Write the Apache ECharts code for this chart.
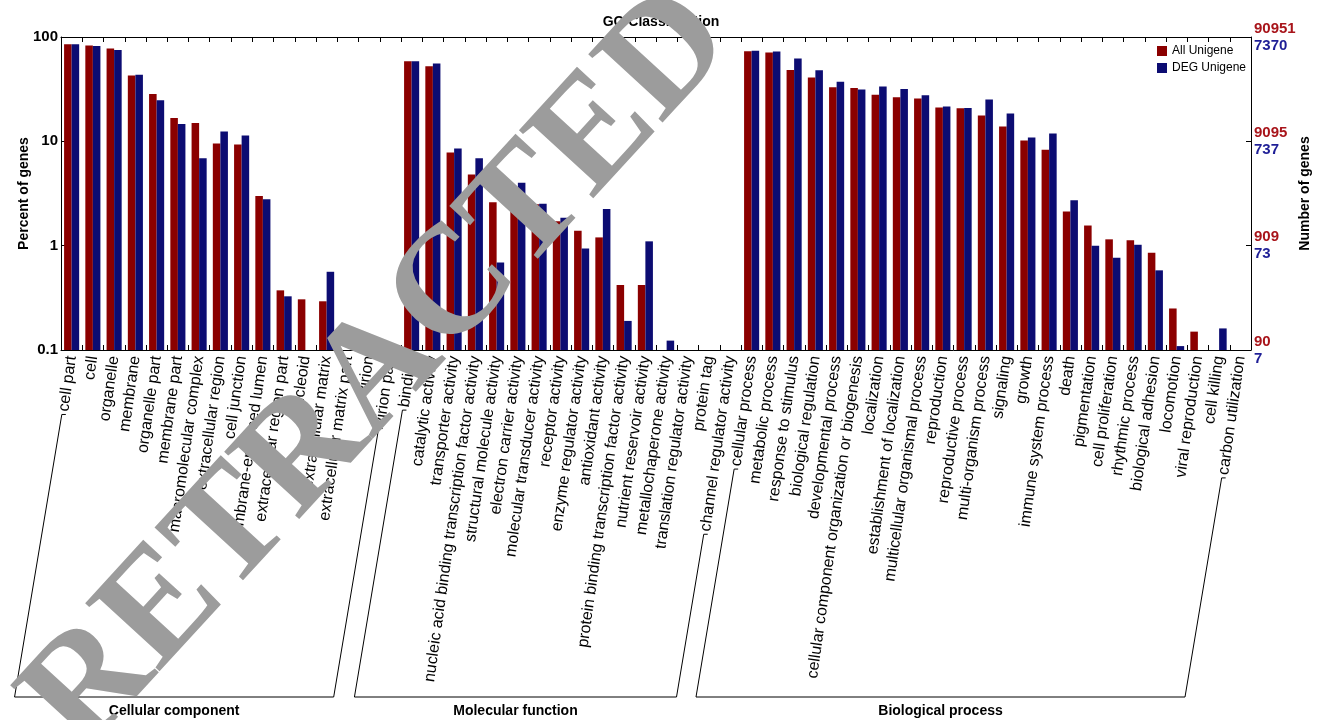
<!DOCTYPE html>
<html>
<head>
<meta charset="utf-8">
<script src="https://cdn.jsdelivr.net/npm/echarts@6/dist/echarts.min.js"></script>
<style>
  html, body { margin: 0; padding: 0; background: #fff; }
  #chart { width: 1326px; height: 720px; }
</style>
</head>
<body>
<div id="chart"></div>
<script>
// GO terms, grouped by ontology (percent of genes; '-' = no bar)
const ccCats = ['cell part', 'cell', 'organelle', 'membrane', 'organelle part', 'membrane part',
  'macromolecular complex', 'extracellular region', 'cell junction', 'membrane-enclosed lumen',
  'extracellular region part', 'nucleoid', 'extracellular matrix', 'extracellular matrix part',
  'virion', 'virion part'];
const ccAll = [85.3, 82.9, 77.6, 42.8, 28.5, 16.7, 15.0, 9.55, 9.3, 2.99, 0.373, 0.306, 0.293, '-', '-', '-'];
const ccDeg = [85.3, 82.0, 75.0, 43.5, 24.8, 14.7, 6.9, 12.4, 11.4, 2.79, 0.327, '-', 0.562, '-', '-', '-'];

const mfCats = ['binding', 'catalytic activity', 'transporter activity',
  'nucleic acid binding transcription factor activity', 'structural molecule activity',
  'electron carrier activity', 'molecular transducer activity', 'receptor activity',
  'enzyme regulator activity', 'antioxidant activity', 'protein binding transcription factor activity',
  'nutrient reservoir activity', 'metallochaperone activity', 'translation regulator activity',
  'protein tag', 'channel regulator activity'];
const mfAll = [58.6, 52.5, 7.83, 4.8, 2.6, 3.0, 2.49, 1.71, 1.39, 1.2, 0.42, 0.42, '-', '-', '-', '-'];
const mfDeg = [58.6, 55.7, 8.55, 6.9, 0.69, 4.0, 2.52, 1.85, 0.94, 2.24, 0.19, 1.1, 0.123, '-', '-', '-'];

const bpCats = ['cellular process', 'metabolic process', 'response to stimulus', 'biological regulation',
  'developmental process', 'cellular component organization or biogenesis', 'localization',
  'establishment of localization', 'multicellular organismal process', 'reproduction',
  'reproductive process', 'multi-organism process', 'signaling', 'growth', 'immune system process',
  'death', 'pigmentation', 'cell proliferation', 'rhythmic process', 'biological adhesion',
  'locomotion', 'viral reproduction', 'cell killing', 'carbon utilization'];
const bpAll = [73.1, 71.0, 48.4, 40.9, 33.0, 32.5, 27.9, 26.5, 25.7, 21.1, 20.8, 17.7, 13.9, 10.2, 8.3,
  2.13, 1.56, 1.15, 1.13, 0.855, 0.25, 0.15, '-', '-'];
const bpDeg = [74.0, 72.6, 62.2, 48.1, 37.2, 31.4, 33.6, 31.8, 27.7, 21.6, 20.9, 25.2, 18.5, 10.9, 11.9,
  2.72, 1.0, 0.766, 1.02, 0.58, 0.109, '-', 0.161, '-'];

const groupNames = ['Cellular component', 'Molecular function', 'Biological process'];

// Tick labels of the log axes at 0.1, 1, 10, 100 percent
const percentTicks = ['0.1', '1', '10', '100'];
const allCountTicks = ['90', '909', '9095', '90951'];
const degCountTicks = ['7', '73', '737', '7370'];

const categories = ccCats.concat(mfCats, bpCats);
const allUnigene = ccAll.concat(mfAll, bpAll);
const degUnigene = ccDeg.concat(mfDeg, bpDeg);
const groupSizes = [ccCats.length, mfCats.length, bpCats.length];

const FONT = '"Liberation Sans", Arial, Helvetica, sans-serif';
const RED = '#8b0000';
const BLUE = '#0c0c72';
const LABEL_ROTATE = 82;
const LABEL_SIZE = 16;
const LABEL_MARGIN = 6;

function tickText(list, v) {
  const i = Math.round(Math.log10(v)) + 1;
  return list[i] !== undefined ? list[i] : '';
}

const chart = echarts.init(document.getElementById('chart'), null, { renderer: 'canvas' });

const axisLineStyle = { lineStyle: { color: '#000', width: 1 } };
const tickStyle = { show: true, inside: true, length: 5, interval: 0, lineStyle: { color: '#000', width: 1 } };

chart.setOption({
  animation: false,
  backgroundColor: '#fff',
  title: {
    text: 'GO Classification',
    left: 656, top: 10, textAlign: 'center',
    textStyle: { fontFamily: FONT, fontSize: 14, fontWeight: 'bold', color: '#000' }
  },
  legend: {
    data: ['All Unigene', 'DEG Unigene'],
    orient: 'vertical', left: 1157, top: 45, padding: 0,
    itemWidth: 10, itemHeight: 10, itemGap: 5, icon: 'rect',
    textStyle: { fontFamily: FONT, fontSize: 12, color: '#000' }
  },
  grid: { left: 61, right: 75, top: 37, bottom: 370 },
  xAxis: [
    {
      type: 'category', data: categories, position: 'bottom',
      axisLine: axisLineStyle, axisTick: tickStyle,
      axisLabel: {
        interval: 0, rotate: LABEL_ROTATE, margin: LABEL_MARGIN,
        fontFamily: FONT, fontSize: LABEL_SIZE, color: '#000', hideOverlap: false
      }
    },
    {
      type: 'category', data: categories, position: 'top',
      axisLine: axisLineStyle, axisTick: tickStyle, axisLabel: { show: false }
    }
  ],
  yAxis: [
    {
      type: 'log', logBase: 10, min: 0.1, max: 100, startValue: 0.1, position: 'left',
      name: 'Percent of genes', nameLocation: 'middle', nameRotate: 90, nameGap: 30,
      nameMoveOverlap: false,
      nameTextStyle: { fontFamily: FONT, fontSize: 14, fontWeight: 'bold', color: '#000' },
      axisLine: { show: true, ...axisLineStyle }, axisTick: tickStyle,
      splitLine: { show: false }, minorTick: { show: false },
      axisLabel: {
        margin: 3, fontFamily: FONT, fontSize: 15, fontWeight: 'bold', color: '#000',
        formatter: v => tickText(percentTicks, v)
      }
    },
    {
      type: 'log', logBase: 10, min: 0.1, max: 100, startValue: 0.1, position: 'right',
      name: 'Number of genes', nameLocation: 'middle', nameRotate: 90, nameGap: 47,
      nameMoveOverlap: false,
      nameTextStyle: { fontFamily: FONT, fontSize: 14, fontWeight: 'bold', color: '#000' },
      axisLine: { show: true, ...axisLineStyle }, axisTick: tickStyle,
      splitLine: { show: false },
      axisLabel: {
        margin: 3,
        formatter: v => '{a|' + tickText(allCountTicks, v) + '}\n{b|' + tickText(degCountTicks, v) + '}',
        rich: {
          a: { fontFamily: FONT, fontSize: 15, fontWeight: 'bold', color: '#a8141a', lineHeight: 17 },
          b: { fontFamily: FONT, fontSize: 15, fontWeight: 'bold', color: '#1e1e96', lineHeight: 17 }
        }
      }
    }
  ],
  series: [
    {
      name: 'All Unigene', type: 'bar', data: allUnigene,
      itemStyle: { color: RED }, barGap: '0%', barCategoryGap: '29%'
    },
    {
      name: 'DEG Unigene', type: 'bar', data: degUnigene,
      itemStyle: { color: BLUE }, barGap: '0%', barCategoryGap: '29%'
    }
  ]
});

// Group brackets: lines continue the slant of the first/last label of each group
// down to a common baseline, with the ontology name centred underneath.
const measureCtx = document.createElement('canvas').getContext('2d');
measureCtx.font = LABEL_SIZE + 'px ' + FONT;
const rad = LABEL_ROTATE * Math.PI / 180;
const axisY = chart.convertToPixel({ yAxisIndex: 0 }, 0.1);
const BASE_Y = 697;
const SLOPE = Math.tan(9.5 * Math.PI / 180);

function labelFoot(idx) {
  const x = chart.convertToPixel({ xAxisIndex: 0 }, idx);
  const w = measureCtx.measureText(categories[idx]).width;
  return [x - w * Math.cos(rad), axisY + LABEL_MARGIN + w * Math.sin(rad)];
}

const graphics = [];
let start = 0;
groupSizes.forEach((n, g) => {
  const a = labelFoot(start);
  const b = labelFoot(start + n - 1);
  const ay = a[1] + 3, by = b[1] + 3;
  const aBottom = a[0] - 2 - (BASE_Y - ay) * SLOPE;
  const bBottom = b[0] - 2 - (BASE_Y - by) * SLOPE;
  graphics.push({
    type: 'polyline', silent: true,
    shape: { points: [[a[0] + 2, ay], [a[0] - 2, ay], [aBottom, BASE_Y], [bBottom, BASE_Y], [b[0] - 2, by], [b[0] + 2, by]] },
    style: { stroke: '#000', lineWidth: 1, fill: null }
  });
  graphics.push({
    type: 'text', silent: true, x: (aBottom + bBottom) / 2, y: 711,
    style: {
      text: groupNames[g], font: 'bold 14px ' + FONT, fill: '#000',
      align: 'center', verticalAlign: 'middle', textAlign: 'center', textVerticalAlign: 'middle'
    }
  });
  start += n;
});

// Diagonal stamp across the figure
graphics.push({
  type: 'text', silent: true, z: 100, x: 380, y: 372, rotation: 47.5 * Math.PI / 180,
  style: {
    text: 'RETRACTED', font: 'bold 154px "Liberation Serif", "Times New Roman", serif', fill: '#9c9c9c',
    align: 'center', verticalAlign: 'middle', textAlign: 'center', textVerticalAlign: 'middle'
  }
});

chart.setOption({ graphic: graphics });
</script>
</body>
</html>
